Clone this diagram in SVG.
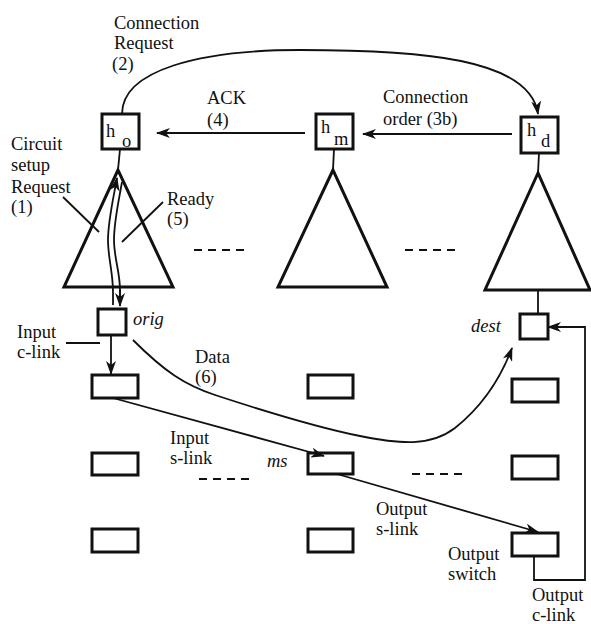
<svg xmlns="http://www.w3.org/2000/svg" width="591" height="624" viewBox="0 0 591 624">
<style>
.t{font-family:"Liberation Serif","Times New Roman",serif;font-size:18.5px;fill:#111}
.i{font-style:italic}
.b{fill:#fff;stroke:#111;stroke-width:3}
.tri{fill:none;stroke:#111;stroke-width:3;stroke-linejoin:miter}
.l{fill:none;stroke:#111;stroke-width:1.8}
.a{fill:none;stroke:#111;stroke-width:1.8;marker-end:url(#ah)}
.d{fill:none;stroke:#111;stroke-width:2;stroke-dasharray:8 6}
</style>
<defs>
<marker id="ah" viewBox="0 0 14 10" refX="13" refY="5" markerWidth="14" markerHeight="10" markerUnits="userSpaceOnUse" orient="auto">
<path d="M0,0 L14,5 L0,10 L4,5 z" fill="#111"/>
</marker>
</defs>
<rect width="591" height="624" fill="#fff"/>

<g id="tree-o">
<polygon class="tri" points="118,170 64,287 173,287"/>
<rect class="b" x="102" y="114" width="37" height="35"/>
<text class="t" x="106" y="137" font-size="20">h</text>
<text class="t" x="122" y="147" font-size="18">o</text>
</g>
<g id="tree-m">
<polygon class="tri" points="333,170 278,287 387,287"/>
<rect class="b" x="316" y="114" width="37" height="35"/>
<text class="t" x="321" y="133" font-size="20">h</text>
<text class="t" x="334" y="145" font-size="18">m</text>
</g>
<g id="tree-d">
<polygon class="tri" points="538,173 485,290 590,290"/>
<rect class="b" x="521" y="117" width="37" height="36"/>
<text class="t" x="527" y="136" font-size="20">h</text>
<text class="t" x="541" y="147" font-size="18">d</text>
</g>

<g id="dots">
<line class="d" x1="194" y1="250" x2="250" y2="250"/>
<line class="d" x1="405" y1="250" x2="460" y2="250"/>
<line class="d" x1="199" y1="479" x2="255" y2="479"/>
<line class="d" x1="412" y1="474" x2="468" y2="474"/>
</g>

<g id="orig"><rect class="b" x="98" y="309" width="28" height="26"/><text class="t i" x="133" y="325">orig</text></g>
<g id="dest"><rect class="b" x="520" y="314" width="28" height="25"/><text class="t i" x="471" y="332">dest</text></g>

<g id="col1">
<rect class="b" x="92" y="375" width="46" height="23"/>
<rect class="b" x="92" y="453" width="46" height="22"/>
<rect class="b" x="92" y="529" width="46" height="23"/>
</g>
<g id="col2">
<rect class="b" x="308" y="375" width="45" height="23"/>
<rect class="b" x="308" y="453" width="45" height="21"/>
<text class="t i" x="267" y="467">ms</text>
<rect class="b" x="308" y="529" width="45" height="23"/>
</g>
<g id="col3">
<rect class="b" x="512" y="379" width="46" height="23"/>
<rect class="b" x="512" y="456" width="46" height="23"/>
<rect class="b" x="512" y="533" width="46" height="23"/>
</g>

<g id="connectors">
<line class="l" x1="120" y1="149" x2="118" y2="170"/>
<line class="l" x1="334" y1="149" x2="333" y2="170"/>
<line class="l" x1="539" y1="153" x2="538" y2="173"/>
<line class="l" x1="538" y1="290" x2="538" y2="314"/>
<path class="a" d="M122,114 C122,70 200,50 300,50 C420,50 530,58 538,114"/>
<line class="a" x1="305" y1="133" x2="157" y2="133"/>
<line class="a" x1="512" y1="134" x2="363" y2="134"/>
<path class="a" d="M113,305 L113,292 C113,272 108,258 108,240 C108,222 112,205 117,178"/>
<path class="l" d="M122,182 C118,205 114,222 114,240 C114,258 120,272 120,290 L120,298"/>
<path class="a" d="M120,290 L120,306"/>
<line class="a" x1="111" y1="335" x2="111" y2="374"/>
<line class="l" x1="66" y1="343" x2="100" y2="343"/>
<path class="a" d="M133,340 C165,372 185,385 215,395 C270,413 320,428 360,436 C400,444 430,447 455,428 C480,408 500,380 512,348"/>
<line class="a" x1="113" y1="398" x2="324" y2="456"/>
<line class="a" x1="337" y1="474" x2="538" y2="532"/>
<path class="a" d="M534,556 L534,580 L585,580 L585,327 L548,327"/>
<line class="l" x1="63" y1="197" x2="99" y2="232"/>
<line class="l" x1="163" y1="202" x2="122" y2="242"/>
</g>

<g id="labels">
<text class="t" x="114" y="29">Connection</text>
<text class="t" x="114" y="49">Request</text>
<text class="t" x="112" y="70">(2)</text>
<text class="t" x="207" y="104">ACK</text>
<text class="t" x="207" y="126">(4)</text>
<text class="t" x="383" y="103">Connection</text>
<text class="t" x="383" y="125">order (3b)</text>
<text class="t" x="11" y="150">Circuit</text>
<text class="t" x="11" y="171">setup</text>
<text class="t" x="11" y="193">Request</text>
<text class="t" x="11" y="213">(1)</text>
<text class="t" x="167" y="205">Ready</text>
<text class="t" x="167" y="225">(5)</text>
<text class="t" x="17" y="338">Input</text>
<text class="t" x="17" y="358">c-link</text>
<text class="t" x="195" y="363">Data</text>
<text class="t" x="195" y="383">(6)</text>
<text class="t" x="170" y="444">Input</text>
<text class="t" x="170" y="464">s-link</text>
<text class="t" x="376" y="515">Output</text>
<text class="t" x="376" y="535">s-link</text>
<text class="t" x="448" y="560">Output</text>
<text class="t" x="448" y="580">switch</text>
<text class="t" x="532" y="601">Output</text>
<text class="t" x="532" y="621">c-link</text>
</g>
</svg>
